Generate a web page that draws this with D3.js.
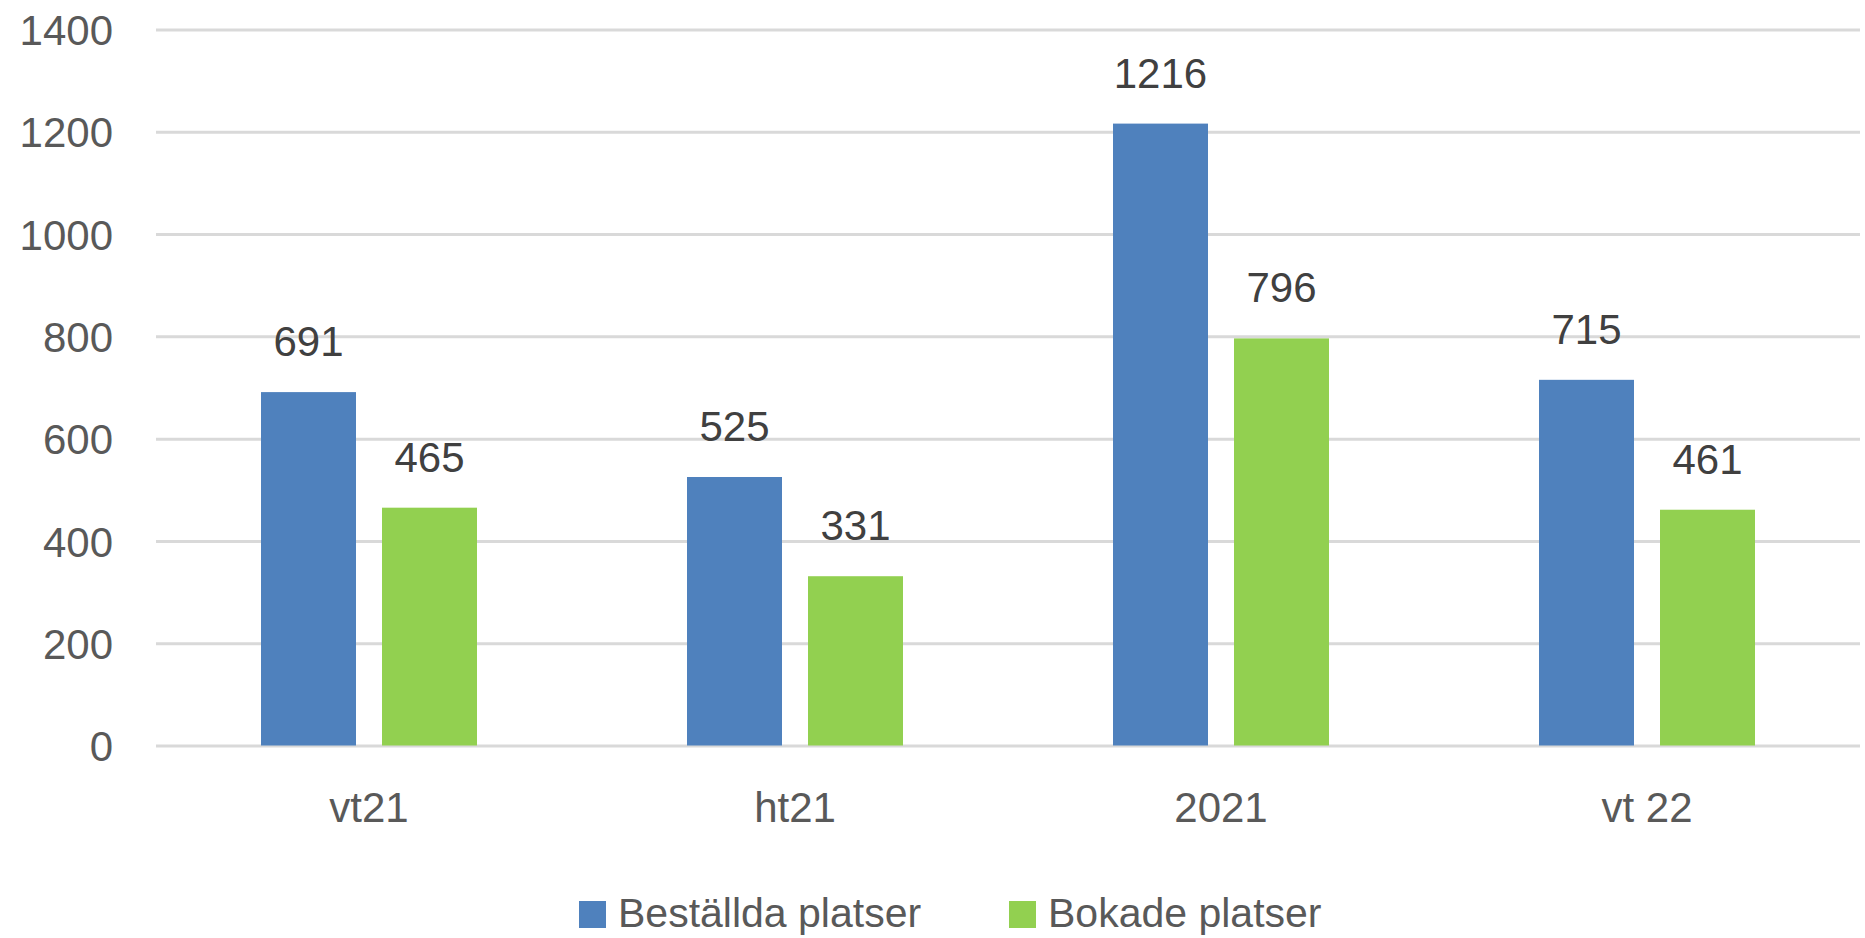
<!DOCTYPE html>
<html>
<head>
<meta charset="utf-8">
<script src="https://cdn.jsdelivr.net/npm/d3@7"></script>
<style>
  body { margin: 0; background: #fff; }
  svg { display: block; }
  text { font-family: "Liberation Sans", Arial, sans-serif; }
</style>
</head>
<body>
<svg></svg>
<script>
let categories = ["vt21", "ht21", "2021", "vt 22"];
let seriesNames = ["Beställda platser", "Bokade platser"];
let bestallda = [691, 525, 1216, 715];
let bokade = [465, 331, 796, 461];
let yTicks = [0, 200, 400, 600, 800, 1000, 1200, 1400];
let colors = ["#4f81bd", "#92d050"];

let width = 1865;
let height = 938;
let plotLeft = 156, plotRight = 1860, plotTop = 29.5, plotBottom = 745.5;

let svg = d3.select("svg").attr("width", width).attr("height", height);

let rows = categories.map((c, i) => ({ cat: c, values: [bestallda[i], bokade[i]] }));

let yScale = d3.scaleLinear().domain([0, 1400]).range([plotBottom, plotTop]);
let x0 = d3.scaleBand().domain(categories).range([plotLeft, plotRight]);
// bars inside each group: ~95px wide with a ~26px gap, centered
let x1 = d3.scaleBand().domain(seriesNames).range([105, 321]).paddingInner(0.215);

// gridlines + y labels
let yAxis = d3.axisLeft(yScale)
  .tickValues(yTicks)
  .tickFormat(d3.format("d"))
  .tickSize(-(plotRight - plotLeft))
  .tickPadding(43);
let gy = svg.append("g").attr("transform", "translate(" + plotLeft + ",0)").call(yAxis);
gy.select(".domain").remove();
gy.selectAll(".tick line").attr("stroke", "#d9d9d9").attr("stroke-width", 3);
gy.selectAll(".tick text")
  .attr("fill", "#595959")
  .style("font-size", "42px")
  .attr("dy", "0.36em");

// x labels
let xAxis = d3.axisBottom(x0).tickSize(0).tickPadding(0);
let gx = svg.append("g").attr("transform", "translate(0," + plotBottom + ")").call(xAxis);
gx.select(".domain").remove();
gx.selectAll(".tick text")
  .attr("fill", "#595959")
  .style("font-size", "42px")
  .attr("y", 76)
  .attr("dy", 0);

// bars
let groups = svg.append("g").selectAll("g")
  .data(rows)
  .enter()
  .append("g")
  .attr("transform", d => "translate(" + x0(d.cat) + ",0)");

groups.selectAll("rect")
  .data(d => d.values.map((v, i) => ({ name: seriesNames[i], value: v, i: i })))
  .enter()
  .append("rect")
  .attr("x", d => x1(d.name))
  .attr("width", x1.bandwidth())
  .attr("y", d => yScale(d.value))
  .attr("height", d => plotBottom - yScale(d.value))
  .attr("fill", d => colors[d.i]);

// data labels
groups.selectAll("text.lbl")
  .data(d => d.values.map((v, i) => ({ name: seriesNames[i], value: v })))
  .enter()
  .append("text")
  .attr("class", "lbl")
  .attr("x", d => x1(d.name) + x1.bandwidth() / 2)
  .attr("y", d => yScale(d.value) - 36)
  .attr("text-anchor", "middle")
  .attr("fill", "#404040")
  .style("font-size", "42px")
  .text(d => d.value);

// legend
let legendX = [579, 1009];
let legend = svg.append("g").selectAll("g")
  .data(seriesNames)
  .enter()
  .append("g")
  .attr("transform", (d, i) => "translate(" + legendX[i] + ",901)");

legend.append("rect")
  .attr("width", 27)
  .attr("height", 27)
  .attr("fill", (d, i) => colors[i]);

legend.append("text")
  .attr("x", 39)
  .attr("y", 26)
  .attr("fill", "#595959")
  .style("font-size", "41px")
  .text(d => d);
</script>
</body>
</html>
